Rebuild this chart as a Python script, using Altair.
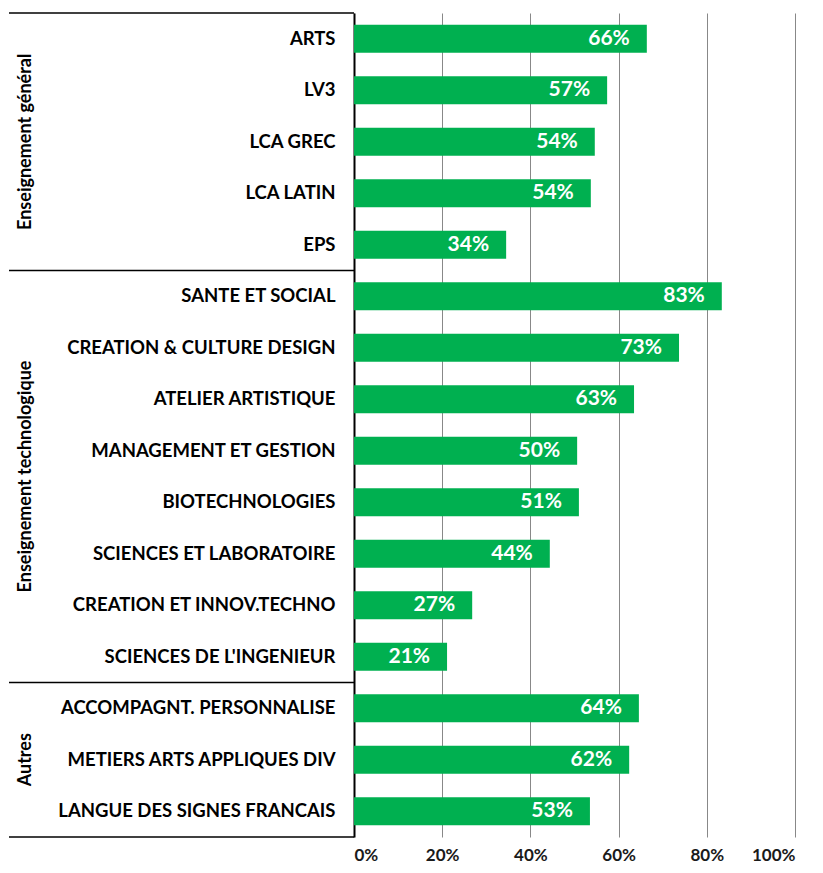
import altair as alt
import pandas as pd

categories = [
    "ARTS", "LV3", "LCA GREC", "LCA LATIN", "EPS",
    "SANTE ET SOCIAL", "CREATION & CULTURE DESIGN", "ATELIER ARTISTIQUE",
    "MANAGEMENT ET GESTION", "BIOTECHNOLOGIES", "SCIENCES ET LABORATOIRE",
    "CREATION ET INNOV.TECHNO", "SCIENCES DE L'INGENIEUR",
    "ACCOMPAGNT. PERSONNALISE", "METIERS ARTS APPLIQUES DIV", "LANGUE DES SIGNES FRANCAIS",
]
values = [0.664, 0.574, 0.546, 0.537, 0.345,
          0.834, 0.737, 0.635, 0.506, 0.510, 0.444, 0.268, 0.211,
          0.646, 0.624, 0.535]
labels_txt = ["66%", "57%", "54%", "54%", "34%",
              "83%", "73%", "63%", "50%", "51%", "44%", "27%", "21%",
              "64%", "62%", "53%"]
groups = ["Enseignement général", "Enseignement technologique", "Autres"]
group_sizes = [5, 8, 3]
x_ticks = [0, 0.2, 0.4, 0.6, 0.8, 1.0]

df = pd.DataFrame({"cat": categories, "value": values, "lab": labels_txt})

starts = [sum(group_sizes[:i]) for i in range(len(group_sizes))]
ends = [s + n for s, n in zip(starts, group_sizes)]
gdf = pd.DataFrame({"group": groups, "mid": [(s + e) / 2 for s, e in zip(starts, ends)]})
bdf = pd.DataFrame({"b": starts + [ends[-1]]})

FONT = "Lato"
N = len(categories)

y_band = alt.Y(
    "cat:N", sort=categories, title=None,
    scale=alt.Scale(paddingInner=0.46, paddingOuter=0.23),
    axis=alt.Axis(labelFont=FONT, labelFontWeight="bold", labelFontSize=18.5,
                  labelColor="black", labelPadding=19, ticks=False,
                  domainColor="black", domainWidth=2, labelLimit=400),
)
x_q = alt.X(
    "value:Q", title=None,
    scale=alt.Scale(domain=[0, 1], nice=False),
    axis=alt.Axis(format=".0%", values=x_ticks, grid=True, gridColor="#888888",
                  gridWidth=1, domain=False, ticks=False, labelFont=FONT,
                  labelFontWeight="bold", labelFontSize=17, labelColor="#1a1a1a",
                  labelPadding=10),
)

bars = alt.Chart(df).mark_bar(color="#00B050").encode(x=x_q, y=y_band)
labels = alt.Chart(df).mark_text(
    align="right", baseline="middle", dx=-17, color="white",
    font=FONT, fontWeight="bold", fontSize=21,
).encode(x="value:Q", y=alt.Y("cat:N", sort=categories), text="lab:N")

y_idx = alt.Scale(domain=[0, N], reverse=True, nice=False, zero=False)
rules = alt.Chart(bdf).mark_rule(color="black", strokeWidth=1.3).encode(
    x=alt.value(-345), x2=alt.value(0),
    y=alt.Y("b:Q", scale=y_idx, axis=None),
)
glabels = alt.Chart(gdf).mark_text(
    angle=270, align="center", baseline="middle", font=FONT,
    fontWeight="bold", fontSize=18, color="black",
).encode(
    x=alt.value(-328),
    y=alt.Y("mid:Q", scale=y_idx, axis=None),
    text="group:N",
)

chart = alt.layer(
    alt.layer(bars, labels),
    alt.layer(rules, glabels),
).resolve_scale(y="independent").properties(
    width=441, height=824,
    autosize=alt.AutoSizeParams(type="none"),
    padding={"left": 346, "top": 5, "right": 15, "bottom": 28},
).configure_view(stroke=None)

chart.save("out.html", embed_options={"renderer": "svg", "actions": False})
